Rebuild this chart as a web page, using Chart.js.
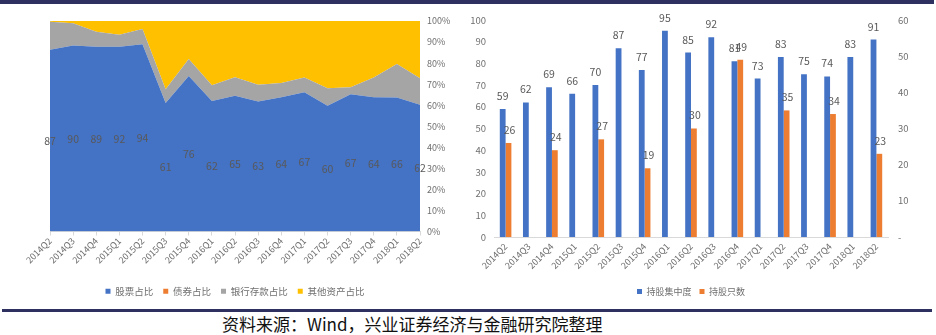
<!DOCTYPE html>
<html>
<head>
<meta charset="utf-8">
<script src="https://cdn.jsdelivr.net/npm/chart.js@4.4.1/dist/chart.umd.min.js"></script>
<style>
  html, body { margin: 0; padding: 0; background: #fff; }
  #page { position: relative; width: 936px; height: 335px; overflow: hidden; background: #fff; }
  #topBar { position: absolute; left: 0; top: 0; width: 934px; height: 4px; background: #2e3060; }
  #leftChart { position: absolute; left: 0; top: 0; }
  #rightChart { position: absolute; left: 470px; top: 0; }
  #rule { position: absolute; left: 2px; top: 309px; width: 930px; height: 3px; background: #2e3060; }
  #source { position: absolute; left: 222px; top: 314px; font-size: 17px; line-height: 20px;
            font-family: 'Noto Sans CJK SC', sans-serif; color: #111; white-space: nowrap; }
</style>
</head>
<body>
<div id="page">
  <canvas id="leftChart" width="470" height="306"></canvas>
  <canvas id="rightChart" width="466" height="306"></canvas>
  <div id="topBar"></div>
  <div id="rule"></div>
  <div id="source">资料来源：Wind，兴业证券经济与金融研究院整理</div>
</div>
<script>
// Quarter axis shared by both panels
const quarters = ['2014Q2', '2014Q3', '2014Q4', '2015Q1', '2015Q2', '2015Q3', '2015Q4', '2016Q1', '2016Q2',
                  '2016Q3', '2016Q4', '2017Q1', '2017Q2', '2017Q3', '2017Q4', '2018Q1', '2018Q2'];

// Asset allocation (% of net assets; totals can exceed 100 with leverage)
const stockRatio   = [87, 90, 89, 92, 94, 61, 76, 62, 65, 63, 64, 67, 60, 67, 64, 66, 62];
const bondRatio    = [0, 0, 0, 0, 0, 0, 0, 0, 0, 0, 0, 0, 0, 0, 0, 0, 0];
const depositRatio = [13.5, 10.8, 7.2, 5.9, 7.7, 6.6, 8.3, 7.5, 8.9, 8.1, 6.7, 7.0, 8.4, 3.5, 9.4, 16.4, 13.0];
const otherRatio   = [0.3, 1.1, 5.2, 6.9, 4.0, 32.4, 18.5, 30.5, 26.9, 30.9, 29.6, 27.2, 32.1, 32.3, 27.0, 21.2, 28.0];

// Holding concentration (left axis) and number of stocks held (right axis)
const concentration = [59, 62, 69, 66, 70, 87, 77, 95, 85, 92, 81, 73, 83, 75, 74, 83, 91];
const holdingCount  = [26, null, 24, null, 27, null, 19, null, 30, null, 49, null, 35, null, 34, null, 23];

const FONT = "'Noto Sans CJK SC', sans-serif";
const TEXT = '#6f6f6f';
const LABEL = '#595959';

// 100% stacked: each series expressed as a share of the quarter's total
const totals = quarters.map((_, i) => stockRatio[i] + bondRatio[i] + depositRatio[i] + otherRatio[i]);
const share = arr => arr.map((v, i) => v / totals[i] * 100);

// Stock value labels, centred vertically inside the stock band
const areaLabels = {
  id: 'areaLabels',
  afterDatasetsDraw(chart) {
    const { ctx, scales: { x, y } } = chart;
    const stockShare = chart.data.datasets[0].data;
    ctx.save();
    ctx.font = '10.5px ' + FONT;
    ctx.fillStyle = LABEL;
    ctx.textAlign = 'center';
    ctx.textBaseline = 'middle';
    stockRatio.forEach((v, i) => {
      ctx.fillText(String(v), x.getPixelForValue(i), y.getPixelForValue(stockShare[i] / 2));
    });
    ctx.restore();
  }
};

// Value labels just above each bar
const barLabels = {
  id: 'barLabels',
  afterDatasetsDraw(chart) {
    const { ctx } = chart;
    ctx.save();
    ctx.font = '10.5px ' + FONT;
    ctx.fillStyle = LABEL;
    ctx.textAlign = 'center';
    ctx.textBaseline = 'middle';
    chart.data.datasets.forEach((ds, di) => {
      chart.getDatasetMeta(di).data.forEach((bar, i) => {
        const v = ds.data[i];
        if (v === null || v === undefined) return;
        ctx.fillText(String(v), bar.x + (di === 1 ? 1 : 0), bar.y - 13);
      });
    });
    ctx.restore();
  }
};

const areaSet = (label, data, color, fill) => ({
  label, data: share(data), backgroundColor: color, borderColor: color,
  borderWidth: 0, pointRadius: 0, tension: 0, fill
});

new Chart(document.getElementById('leftChart'), {
  type: 'line',
  data: {
    labels: quarters,
    datasets: [
      areaSet('股票占比', stockRatio, '#4472C4', 'origin'),
      areaSet('债券占比', bondRatio, '#ED7D31', '-1'),
      areaSet('银行存款占比', depositRatio, '#A5A5A5', '-1'),
      areaSet('其他资产占比', otherRatio, '#FFC000', '-1')
    ]
  },
  options: {
    responsive: false,
    animation: false,
    devicePixelRatio: 1,
    layout: { padding: { top: 21, left: 50, right: 0, bottom: 0 } },
    scales: {
      x: {
        offset: false,
        grid: { drawOnChartArea: false, drawTicks: true, tickLength: 4, color: '#d9d9d9' },
        border: { color: '#d9d9d9' },
        ticks: { autoSkip: false, minRotation: 45, maxRotation: 45, padding: 0,
                 font: { family: FONT, size: 9 }, color: TEXT },
        afterFit(s) { s.height = 45; }
      },
      y: {
        position: 'right',
        stacked: true,
        min: 0, max: 100,
        grid: { display: false, drawTicks: false },
        border: { display: false },
        ticks: { stepSize: 10, padding: 7, callback: v => v + '%',
                 font: { family: FONT, size: 9 }, color: TEXT },
        afterFit(s) { s.width = 50; }
      }
    },
    plugins: {
      legend: {
        position: 'bottom',
        fullSize: false,
        labels: { boxWidth: 5, boxHeight: 5, padding: 10, color: TEXT, font: { family: FONT, size: 9.5 } }
      },
      tooltip: { enabled: false }
    }
  },
  plugins: [areaLabels]
});

new Chart(document.getElementById('rightChart'), {
  type: 'bar',
  data: {
    labels: quarters,
    datasets: [
      { label: '持股集中度', data: concentration, backgroundColor: '#4472C4', yAxisID: 'y',
        categoryPercentage: 0.5, barPercentage: 1 },
      { label: '持股只数', data: holdingCount, backgroundColor: '#ED7D31', yAxisID: 'y1',
        categoryPercentage: 0.5, barPercentage: 1 }
    ]
  },
  options: {
    responsive: false,
    animation: false,
    devicePixelRatio: 1,
    layout: { padding: { top: 20, left: 0, right: 0, bottom: 0 } },
    scales: {
      x: {
        grid: { display: false, drawTicks: false },
        border: { color: '#d9d9d9' },
        ticks: { autoSkip: false, minRotation: 45, maxRotation: 45, padding: 4,
                 font: { family: FONT, size: 9 }, color: TEXT },
        afterFit(s) { s.height = 42; }
      },
      y: {
        position: 'left',
        min: 0, max: 100,
        grid: { display: false, drawTicks: false },
        border: { display: false },
        ticks: { stepSize: 10, padding: 8, font: { family: FONT, size: 9.5 }, color: TEXT },
        afterFit(s) { s.width = 24; }
      },
      y1: {
        position: 'right',
        min: 0, max: 60,
        grid: { display: false, drawTicks: false },
        border: { display: false },
        ticks: { stepSize: 10, padding: 10, callback: v => (v === 0 ? '-' : v),
                 font: { family: FONT, size: 9.5 }, color: TEXT },
        afterFit(s) { s.width = 48; }
      }
    },
    plugins: {
      legend: {
        position: 'bottom',
        fullSize: false,
        labels: { boxWidth: 5, boxHeight: 5, padding: 8, color: TEXT, font: { family: FONT, size: 9 } }
      },
      tooltip: { enabled: false }
    }
  },
  plugins: [barLabels]
});
</script>
</body>
</html>
